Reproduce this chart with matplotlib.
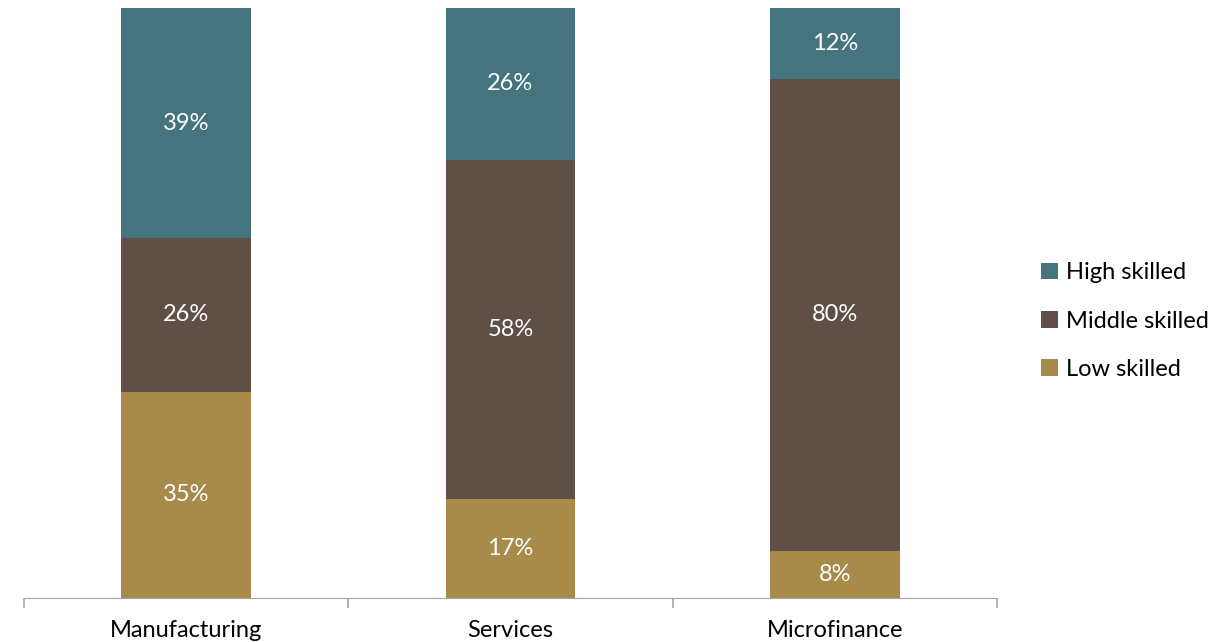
import matplotlib.pyplot as plt
import numpy as np

plt.rcParams['font.family'] = ['Lato', 'DejaVu Sans']

sectors = ['Manufacturing', 'Services', 'Microfinance']
low = [35, 17, 8]
middle = [26, 58, 80]
high = [39, 26, 12]

colors = {'High skilled': '#45737E', 'Middle skilled': '#5E5047', 'Low skilled': '#A88A4B'}

# bars fill to 100% even when rounded labels add up to 101
totals = np.array(low) + np.array(middle) + np.array(high)

fig = plt.figure(figsize=(12.23, 6.42), dpi=100)
ax = fig.add_axes([0.0196, 0.0685, 0.7956, 0.919])

x = np.arange(len(sectors))
width = 0.4
bottom = np.zeros(len(sectors))
handles = {}
for name, vals in [('Low skilled', low), ('Middle skilled', middle), ('High skilled', high)]:
    shares = np.array(vals) / totals * 100
    bars = ax.bar(x, shares, width, bottom=bottom, color=colors[name], label=name)
    handles[name] = bars
    for xi, b, s, v in zip(x, bottom, shares, vals):
        ax.text(xi, b + s / 2, f'{v}%', ha='center', va='center',
                color='white', fontsize=17)
    bottom += shares

ax.set_xlim(-0.5, 2.5)
ax.set_ylim(0, 100)
ax.set_yticks([])
for s in ['top', 'right', 'left']:
    ax.spines[s].set_visible(False)
ax.spines['bottom'].set_color('#A6A6A6')
ax.set_xticks(x)
ax.set_xticklabels(sectors, fontsize=17)
ax.tick_params(axis='x', which='major', length=0, pad=16)
ax.set_xticks([-0.5, 0.5, 1.5, 2.5], minor=True)
ax.tick_params(axis='x', which='minor', length=7, color='#A6A6A6', width=1.2)

order = ['High skilled', 'Middle skilled', 'Low skilled']
fig.legend([handles[k] for k in order], order, loc='center left',
           bbox_to_anchor=(0.834, 0.5), frameon=False, fontsize=17,
           handlelength=0.7, handleheight=0.7, handletextpad=0.35, labelspacing=1.15)

fig.savefig('out.png', dpi=100)
